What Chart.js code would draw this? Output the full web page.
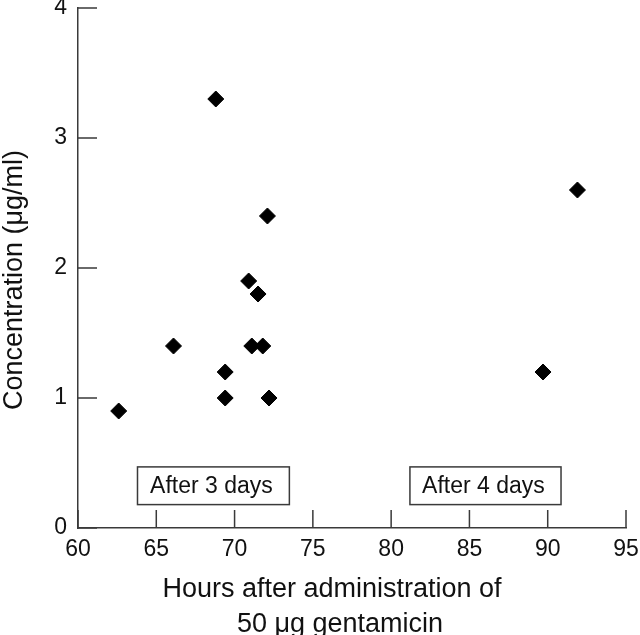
<!DOCTYPE html>
<html>
<head>
<meta charset="utf-8">
<script src="https://cdn.jsdelivr.net/npm/chart.js@4.4.1/dist/chart.umd.min.js"></script>
<style>
  body { margin: 0; background: #fff; }
  #caja { width: 640px; height: 635px; position: relative; }
</style>
</head>
<body>
<div id="caja"><canvas id="grafico"></canvas></div>
<script>
// datos
const horas = [62.6, 66.1, 68.8, 69.4, 69.4, 70.9, 71.1, 71.5, 71.8, 72.1, 72.2, 89.7, 91.9];
const concentracion = [0.9, 1.4, 3.3, 1.2, 1.0, 1.9, 1.4, 1.8, 1.4, 2.4, 1.0, 1.2, 2.6];

const ticksX = [60, 65, 70, 75, 80, 85, 90, 95];
const ticksY = [0, 1, 2, 3, 4];

const etiquetasCajas = ['After 3 days', 'After 4 days'];
const cajasX = [[63.8, 73.5], [81.2, 90.85]];
const cajasY = [0.18, 0.47];

const tituloX = ['Hours after administration of', '50 \u03bcg gentamicin'];
const tituloY = 'Concentration (\u03bcg/ml)';

const colorEje = '#3a3a3a';
const fuente = '"Liberation Sans", Arial, Helvetica, sans-serif';

// sin relleno extra de las etiquetas
const sinRelleno = s => {
    s.paddingTop = 0;
    s.paddingBottom = 0;
    s.paddingLeft = 0;
    s.paddingRight = 0;
};

// marcas de los ejes hacia dentro
const marcasInternas = {
    id: 'marcasInternas',
    afterDraw(chart) {
        const ctx = chart.ctx;
        const sx = chart.scales.x;
        const sy = chart.scales.y;
        const area = chart.chartArea;
        ctx.save();
        ctx.strokeStyle = colorEje;
        ctx.lineWidth = 1.5;
        ctx.beginPath();
        ticksX.forEach(v => {
            const px = sx.getPixelForValue(v);
            ctx.moveTo(px, area.bottom);
            ctx.lineTo(px, area.bottom - 18);
        });
        ticksY.forEach(v => {
            const py = sy.getPixelForValue(v);
            ctx.moveTo(area.left, py);
            ctx.lineTo(area.left + 19, py);
        });
        ctx.stroke();
        ctx.restore();
    }
};

// cajas de texto
const cajas = {
    id: 'cajas',
    afterDraw(chart) {
        const ctx = chart.ctx;
        const sx = chart.scales.x;
        const sy = chart.scales.y;
        ctx.save();
        etiquetasCajas.forEach((txt, i) => {
            const x1 = sx.getPixelForValue(cajasX[i][0]);
            const x2 = sx.getPixelForValue(cajasX[i][1]);
            const y1 = sy.getPixelForValue(cajasY[1]);
            const y2 = sy.getPixelForValue(cajasY[0]);
            ctx.fillStyle = '#fff';
            ctx.fillRect(x1, y1, x2 - x1, y2 - y1);
            ctx.strokeStyle = colorEje;
            ctx.lineWidth = 1.5;
            ctx.strokeRect(x1, y1, x2 - x1, y2 - y1);
            ctx.fillStyle = '#111';
            ctx.font = '23px ' + fuente;
            ctx.textAlign = 'center';
            ctx.textBaseline = 'alphabetic';
            ctx.fillText(txt, (x1 + x2) / 2 - 2, y1 + 26.5);
        });
        ctx.restore();
    }
};

// titulos de los ejes
const titulos = {
    id: 'titulos',
    afterDraw(chart) {
        const ctx = chart.ctx;
        const area = chart.chartArea;
        ctx.save();
        ctx.fillStyle = '#111';
        ctx.font = '27px ' + fuente;
        ctx.textAlign = 'center';
        ctx.textBaseline = 'alphabetic';
        ctx.fillText(tituloX[0], 332, area.bottom + 69);
        ctx.fillText(tituloX[1], 340, area.bottom + 104);
        ctx.translate(22, 280);
        ctx.rotate(-Math.PI / 2);
        ctx.fillText(tituloY, 0, 0);
        ctx.restore();
    }
};

const grafica = new Chart(document.getElementById('grafico'), {
    type: 'scatter',
    data: {
        datasets: [{
            label: 'Concentración',
            data: horas.map((h, i) => ({ x: h, y: concentracion[i] })),
            pointStyle: 'rectRot',
            pointRadius: 8,
            pointHoverRadius: 8,
            backgroundColor: '#000',
            borderColor: '#000',
            borderWidth: 1
        }]
    },
    options: {
        responsive: true,
        maintainAspectRatio: false,
        animation: false,
        layout: {
            autoPadding: false,
            padding: { left: 0, top: 8, right: 14, bottom: 0 }
        },
        plugins: {
            legend: { display: false },
            tooltip: { enabled: false }
        },
        scales: {
            x: {
                type: 'linear',
                min: 60,
                max: 95,
                afterFit: s => { s.height = 107; sinRelleno(s); },
                afterBuildTicks: s => { s.ticks = ticksX.map(v => ({ value: v })); },
                grid: { display: false, drawTicks: false },
                border: { display: true, color: colorEje, width: 1.5 },
                ticks: {
                    padding: 8,
                    color: '#111',
                    font: { family: fuente, size: 23 }
                }
            },
            y: {
                type: 'linear',
                min: 0,
                max: 4,
                afterFit: s => { s.width = 78; sinRelleno(s); },
                afterBuildTicks: s => { s.ticks = ticksY.map(v => ({ value: v })); },
                grid: { display: false, drawTicks: false },
                border: { display: true, color: colorEje, width: 1.5 },
                ticks: {
                    padding: 11,
                    color: '#111',
                    font: { family: fuente, size: 23 }
                }
            }
        }
    },
    plugins: [marcasInternas, cajas, titulos]
});
</script>
</body>
</html>
